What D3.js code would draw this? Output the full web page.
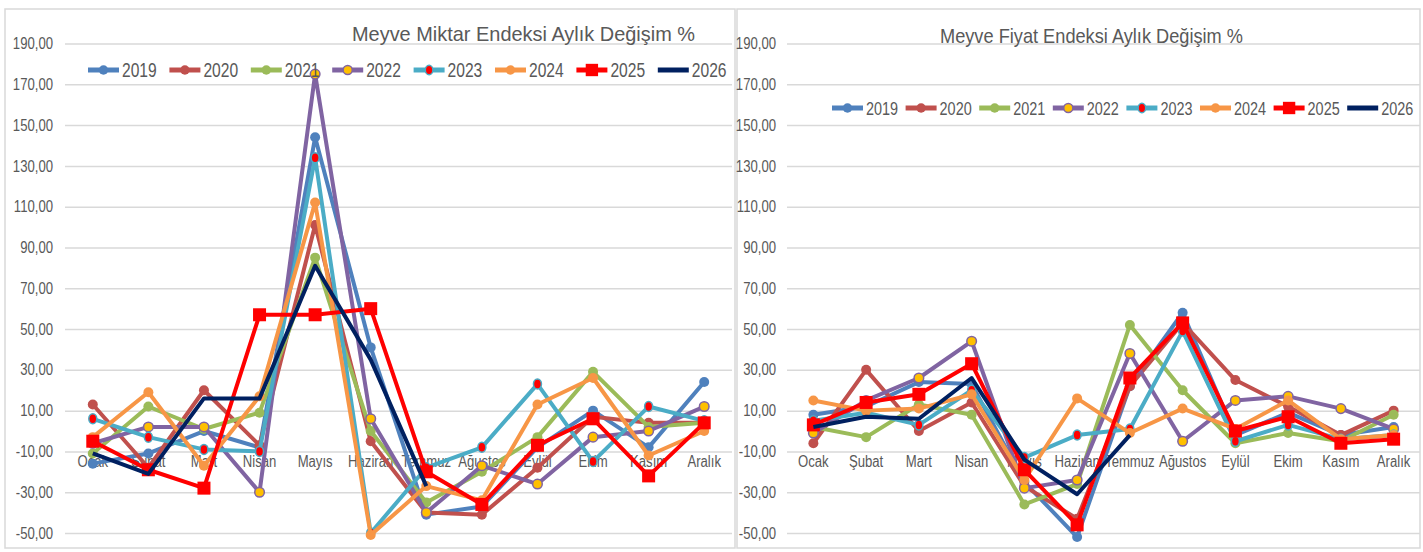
<!DOCTYPE html>
<html lang="tr">
<head>
<meta charset="UTF-8">
<title>Meyve Endeksleri Aylık Değişim</title>
<style>
  body { margin: 0; background: #fff; }
  text { font-family: "Liberation Sans", Arial, sans-serif; fill: #595959; }
</style>
</head>
<body>
<svg width="1423" height="552"></svg>
<script src="https://d3js.org/d3.v7.min.js"></script>
<script>

  var months = ["Ocak", "Şubat", "Mart", "Nisan", "Mayıs", "Haziran", "Temmuz", "Ağustos", "Eylül", "Ekim", "Kasım", "Aralık"];
  var years = ["2019", "2020", "2021", "2022", "2023", "2024", "2025", "2026"];
  var yTicks = [-50, -30, -10, 10, 30, 50, 70, 90, 110, 130, 150, 170, 190];

  // Meyve Miktar Endeksi aylık değişim %
  var miktar2019 = [-16, -11, 0, -8, 144, 41, -41, -37, -8, 10, -8, 24];
  var miktar2020 = [13, -18, 20, -7, 101, -5, -40, -41, -18, 7, 4, 4];
  var miktar2021 = [-11, 12, 1, 9, 85, 0, -35, -20, -3, 29, 2, 4];
  var miktar2022 = [-6, 2, 2, -30, 175, 6, -40, -17, -26, -3, 0, 12];
  var miktar2023 = [6, -3, -9, -10, 134, -50, -18, -8, 23, -15, 12, 5];
  var miktar2024 = [-3, 19, -17, 17, 112, -51, -27, -34, 13, 26, -12, 0];
  var miktar2025 = [-5, -19, -28, 57, 57, 60, -20, -36, -7, 6, -22, 4];
  var miktar2026 = [-11, -21, 16, 16, 81, 35, -27, null, null, null, null, null];

  // Meyve Fiyat Endeksi aylık değişim %
  var fiyat2019 = [8, 12, 24, 23, -25, -52, 22, 58, -2, 9, -2, 2];
  var fiyat2020 = [-6, 30, 0, 14, -27, -43, 22, 53, 25, 12, -2, 10];
  var fiyat2021 = [2, -3, 13, 8, -36, -26, 52, 20, -6, -1, -5, 8];
  var fiyat2022 = [-1, 15, 26, 44, -28, -24, 38, -5, 15, 17, 11, 1];
  var fiyat2023 = [5, 9, 3, 20, -13, -2, 1, 49, -5, 3, -4, -2];
  var fiyat2024 = [15, 10, 11, 18, -24, 16, -1, 11, 1, 15, -4, -2];
  var fiyat2025 = [3, 14, 18, 33, -19, -46, 26, 53, 0, 7, -6, -4];
  var fiyat2026 = [2, 7, 6, 26, -14, -31, -2, null, null, null, null, null];

  var yearColors = ["#4f81bd", "#c0504d", "#9bbb59", "#8064a2", "#4bacc6", "#f79646", "#ff0000", "#002060"];
  var markerKind = ["dot", "dot", "dot", "yellow", "reddot", "dot", "square", "none"];

  var svg = d3.select("svg");
  var fmt = d3.format(".2f");
  var tickLabel = function(v) { return fmt(v).replace(".", ",").replace("−", "-"); };

  // condense text like a narrow font
  var squeeze = function(sel, k) {
    sel.each(function() {
      var w = this.getComputedTextLength();
      d3.select(this).attr("textLength", w * k).attr("lengthAdjust", "spacingAndGlyphs");
    });
  };

  var drawMarker = function(g, kind, color, x, y, size) {
    if (kind === "dot") {
      g.append("circle").attr("cx", x).attr("cy", y).attr("r", 5 * size).attr("fill", color);
    } else if (kind === "yellow") {
      g.append("circle").attr("cx", x).attr("cy", y).attr("r", 4.8 * size)
        .attr("fill", "#ffc000").attr("stroke", color).attr("stroke-width", 1.5);
    } else if (kind === "reddot") {
      g.append("ellipse").attr("cx", x).attr("cy", y).attr("rx", 4 * size).attr("ry", 5 * size)
        .attr("fill", "#ff0000").attr("stroke", color).attr("stroke-width", 1.5);
    } else if (kind === "square") {
      var s = 13 * size;
      g.append("rect").attr("x", x - s / 2).attr("y", y - s / 2).attr("width", s).attr("height", s)
        .attr("fill", color);
    }
  };

  var drawChart = function(cfg) {
    var g = svg.append("g");

    g.append("rect")
      .attr("x", cfg.frame[0]).attr("y", cfg.frame[1])
      .attr("width", cfg.frame[2]).attr("height", cfg.frame[3])
      .attr("fill", "#fff").attr("stroke", "#d9d9d9").attr("stroke-width", 1.5);

    var x = d3.scaleBand().domain(months).range([cfg.left, cfg.right]);
    var y = d3.scaleLinear().domain([-50, 190]).range([533, 43.5]);

    // gridlines + y labels
    var yAxis = d3.axisLeft(y).tickValues(yTicks).tickFormat(tickLabel)
      .tickSize(-(cfg.right - cfg.left)).tickPadding(cfg.left - cfg.labelEnd);
    var ya = g.append("g").attr("transform", "translate(" + cfg.left + ",0)").call(yAxis);
    ya.select(".domain").remove();
    ya.selectAll(".tick line").attr("stroke", "#d9d9d9").attr("stroke-width", 1.5);
    ya.selectAll(".tick text").style("font-size", "16px").attr("fill", "#595959");
    squeeze(ya.selectAll(".tick text"), 0.82);

    // month labels sit just under the -10 line
    var ml = g.append("g").selectAll("text").data(months).enter().append("text")
      .attr("x", function(d) { return x(d) + x.bandwidth() / 2; })
      .attr("y", y(-10) + 16)
      .attr("text-anchor", "middle")
      .style("font-size", "16px")
      .text(function(d) { return d; });
    squeeze(ml, 0.82);

    var line = d3.line()
      .defined(function(d) { return d != null; })
      .x(function(d, i) { return x(months[i]) + x.bandwidth() / 2; })
      .y(function(d) { return y(d); });

    cfg.series.forEach(function(vals, si) {
      var sg = g.append("g");
      sg.append("path")
        .attr("d", line(vals))
        .attr("fill", "none")
        .attr("stroke", yearColors[si])
        .attr("stroke-width", 4)
        .attr("stroke-linejoin", "round");
      vals.forEach(function(v, i) {
        if (v == null) return;
        drawMarker(sg, markerKind[si], yearColors[si], x(months[i]) + x.bandwidth() / 2, y(v), 1);
      });
    });

    // legend
    years.forEach(function(yr, i) {
      var tx = cfg.legendX + i * cfg.legendStep;
      var lg = g.append("g");
      lg.append("line")
        .attr("x1", tx - 34).attr("x2", tx - 3)
        .attr("y1", cfg.legendY).attr("y2", cfg.legendY)
        .attr("stroke", yearColors[i]).attr("stroke-width", 5);
      drawMarker(lg, markerKind[i], yearColors[i], tx - 18.5, cfg.legendY, 0.95);
      var t = lg.append("text")
        .attr("x", tx).attr("y", cfg.legendY + 7)
        .style("font-size", cfg.legendFont + "px")
        .text(yr);
      squeeze(t, 0.78);
    });

    g.append("text")
      .attr("x", cfg.titleX).attr("y", cfg.titleY)
      .style("font-size", "21px")
      .attr("textLength", cfg.titleW).attr("lengthAdjust", "spacingAndGlyphs")
      .text(cfg.title);
  };

  drawChart({
    frame: [5, 9, 730, 539],
    left: 65, right: 732, labelEnd: 53,
    series: [miktar2019, miktar2020, miktar2021, miktar2022, miktar2023, miktar2024, miktar2025, miktar2026],
    legendX: 122, legendStep: 81.4, legendY: 70, legendFont: 20,
    title: "Meyve Miktar Endeksi Aylık Değişim %", titleX: 352, titleY: 41, titleW: 343
  });

  drawChart({
    frame: [737, 9, 683, 539],
    left: 787, right: 1420, labelEnd: 776,
    series: [fiyat2019, fiyat2020, fiyat2021, fiyat2022, fiyat2023, fiyat2024, fiyat2025, fiyat2026],
    legendX: 866, legendStep: 73.6, legendY: 108, legendFont: 18.5,
    title: "Meyve Fiyat Endeksi Aylık Değişim %", titleX: 940, titleY: 43, titleW: 303
  });

</script>
</body>
</html>
